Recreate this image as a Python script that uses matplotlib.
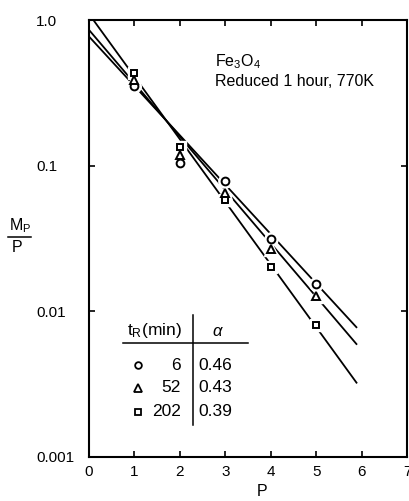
import numpy as np
import matplotlib
matplotlib.use("Agg")
import matplotlib.pyplot as plt
from matplotlib.lines import Line2D

plt.rcParams['font.family'] = ['Liberation Sans', 'DejaVu Sans']
plt.rcParams['mathtext.fontset'] = 'custom'
plt.rcParams['mathtext.rm'] = 'Liberation Sans'
plt.rcParams['mathtext.it'] = 'Liberation Sans:italic'
plt.rcParams['mathtext.bf'] = 'Liberation Sans:bold'

# Measured M_P/P values at each P for three reduction times
P = [1, 2, 3, 4, 5]
circle_vals = [0.35, 0.105, 0.078, 0.0316, 0.0155]    # t_R = 6 min
triangle_vals = [0.39, 0.119, 0.065, 0.0266, 0.0127]  # t_R = 52 min
square_vals = [0.43, 0.135, 0.058, 0.020, 0.008]      # t_R = 202 min

# Fitted straight lines (log scale): value at P = 0 and at P = 5.9
fit_P = [0.0, 5.9]
circle_fit = [0.77, 0.0077]
triangle_fit = [0.855, 0.0059]
square_fit = [1.10, 0.0032]

t_R = ['6', '52', '202']
alpha = ['0.46', '0.43', '0.39']

x_ticks = [0, 1, 2, 3, 4, 5, 6, 7]
y_ticks = [0.001, 0.01, 0.1, 1.0]
y_ticklabels = ['0.001', '0.01', '0.1', '1.0']

W, H = 409, 501
fig = plt.figure(figsize=(W / 100, H / 100), dpi=100)
ax = fig.add_axes([89 / W, 1 - 457 / H, 318 / W, 437 / H])
ax.set_yscale('log')
ax.set_xlim(0, 7)
ax.set_ylim(0.001, 1.0)

lw = 1.3
for fit in (circle_fit, triangle_fit, square_fit):
    ax.plot(fit_P, fit, color='black', lw=lw, zorder=2, solid_capstyle='butt')

series = [(circle_vals, 'o', 5.6), (triangle_vals, '^', 6.2), (square_vals, 's', 4.8)]
for vals, m, ms in series:
    # white halo breaks the fit lines around each point
    ax.plot(P, vals, ls='none', marker=m, ms=ms + 4, mfc='white', mec='white',
            mew=1.0, zorder=3)
    ax.plot(P, vals, ls='none', marker=m, ms=ms, mfc='white', mec='black',
            mew=1.4, zorder=4)

for s in ax.spines.values():
    s.set_linewidth(1.5)

ax.set_xticks(x_ticks)
ax.set_xticklabels([str(v) for v in x_ticks])
ax.set_yticks(y_ticks)
ax.set_yticklabels(y_ticklabels)
ax.yaxis.set_minor_locator(matplotlib.ticker.NullLocator())
ax.tick_params(axis='both', direction='in', length=4, width=1.2,
               top=True, right=True, labelsize=11)
ax.tick_params(axis='x', pad=6)
ax.tick_params(axis='y', pad=38)
for lab in ax.get_yticklabels():
    lab.set_ha('left')

ax.set_xlabel('P', fontsize=11.5)
ax.xaxis.set_label_coords((262 - 89) / 318, -0.062)

# y-axis label drawn as a fraction M_P / P
fig.text(20 / W, 1 - 226 / H, r'M$_\mathregular{P}$', ha='center', va='center',
         fontsize=11.5)
fig.add_artist(Line2D([8 / W, 31 / W], [1 - 237 / H, 1 - 237 / H],
                      color='black', lw=1.1, transform=fig.transFigure))
fig.text(17 / W, 1 - 248 / H, 'P', ha='center', va='center', fontsize=11.5)

# sample annotation
ax.text((215 - 89) / 318, (457 - 62) / 437, r'Fe$_3$O$_4$', transform=ax.transAxes,
        ha='left', va='center', fontsize=11.5)
ax.text((215 - 89) / 318, (457 - 82) / 437, 'Reduced 1 hour, 770K',
        transform=ax.transAxes, ha='left', va='center', fontsize=11.5)

# table of reduction times and alpha
def fx(px):
    return (px - 89) / 318


def fy(py):
    return (457 - py) / 437


T = ax.transAxes
ax.text(fx(154), fy(330), r't$_\mathregular{R}$(min)', transform=T, ha='center',
        va='center', fontsize=12.5)
ax.text(fx(218), fy(331), r'$\alpha$', transform=T, ha='center', va='center',
        fontsize=12)
ax.plot([fx(123), fx(248)], [fy(343), fy(343)], transform=T, color='black',
        lw=1.1, clip_on=False)
ax.plot([fx(193), fx(193)], [fy(315), fy(425)], transform=T, color='black',
        lw=1.1, clip_on=False)
row_y = [365, 388, 412]
for (vals, m, ms), t, a, ry in zip(series, t_R, alpha, row_y):
    ax.plot([fx(138)], [fy(ry)], transform=T, marker=m, ms=ms - 0.8, mfc='white',
            mec='black', mew=1.3, ls='none')
    ax.text(fx(181), fy(ry), t, transform=T, ha='right', va='center', fontsize=12.5)
    ax.text(fx(198), fy(ry), a, transform=T, ha='left', va='center', fontsize=12.5)

fig.savefig('out.png', dpi=100)
